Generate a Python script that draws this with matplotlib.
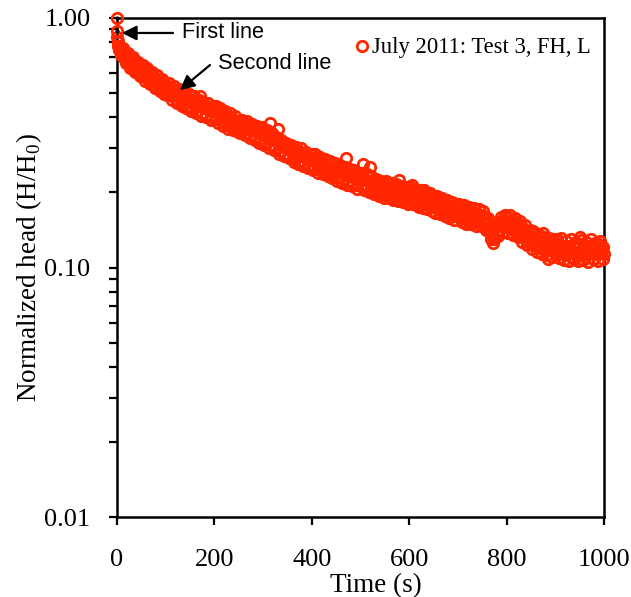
import matplotlib

matplotlib.use("Agg")
import matplotlib.pyplot as plt
import numpy as np
from matplotlib.ticker import FixedLocator, LogLocator, NullFormatter

# first seconds of the test (two readings at t = 0)
time_early = [0, 0, 1, 2, 3, 4]
head_early = [1.00, 0.89, 0.84, 0.80, 0.77, 0.75]

# readings every 5 s, t = 5 ... 1000
time_main = np.arange(5, 1001, 5)
head_main = [
    0.745, 0.73, 0.69, 0.70, 0.665, 0.67, 0.635, 0.645, 0.61, 0.62,
    0.59, 0.605, 0.57, 0.59, 0.555, 0.575, 0.54, 0.56, 0.53, 0.535,
    0.525, 0.51, 0.51, 0.495, 0.495, 0.485, 0.48, 0.47, 0.475, 0.46,
    0.465, 0.45, 0.455, 0.485, 0.44, 0.445, 0.43, 0.435, 0.425, 0.43,
    0.42, 0.405, 0.41, 0.395, 0.40, 0.385, 0.395, 0.38, 0.385, 0.375,
    0.38, 0.365, 0.375, 0.36, 0.365, 0.355, 0.36, 0.35, 0.355, 0.345,
    0.345, 0.335, 0.38, 0.33, 0.325, 0.36, 0.31, 0.315, 0.30, 0.305,
    0.30, 0.29, 0.295, 0.28, 0.29, 0.28, 0.285, 0.275, 0.27, 0.275,
    0.275, 0.26, 0.265, 0.255, 0.26, 0.25, 0.255, 0.245, 0.25, 0.24,
    0.25, 0.24, 0.245, 0.275, 0.222, 0.24, 0.232, 0.238, 0.228, 0.235,
    0.26, 0.225, 0.23, 0.252, 0.222, 0.218, 0.225, 0.212, 0.20, 0.215,
    0.21, 0.218, 0.19, 0.205, 0.215, 0.225, 0.21, 0.20, 0.205, 0.198,
    0.215, 0.198, 0.205, 0.175, 0.195, 0.205, 0.19, 0.195, 0.185, 0.19,
    0.19, 0.18, 0.185, 0.175, 0.18, 0.17, 0.175, 0.168, 0.172, 0.165,
    0.17, 0.165, 0.172, 0.16, 0.168, 0.155, 0.165, 0.16, 0.158, 0.162,
    0.155, 0.15, 0.145, 0.135, 0.13, 0.138, 0.142, 0.148, 0.155, 0.145,
    0.158, 0.15, 0.145, 0.152, 0.14, 0.148, 0.135, 0.14, 0.135, 0.13,
    0.14, 0.125, 0.13, 0.12, 0.138, 0.125, 0.108, 0.122, 0.13, 0.118,
    0.125, 0.115, 0.12, 0.112, 0.122, 0.118, 0.11, 0.125, 0.115, 0.132,
    0.118, 0.11, 0.122, 0.115, 0.12, 0.108, 0.125, 0.115, 0.12, 0.113,
]

# readings at t = 2.5 ... 997.5 (upper / lower edge of the band)
time_mid = np.arange(2.5, 1000, 5)
head_mid = [
    0.81, 0.71, 0.76, 0.66, 0.725, 0.63, 0.695, 0.605, 0.665, 0.585,
    0.65, 0.56, 0.63, 0.545, 0.61, 0.525, 0.59, 0.51, 0.57, 0.495,
    0.49, 0.55, 0.47, 0.535, 0.455, 0.52, 0.445, 0.505, 0.435, 0.495,
    0.425, 0.485, 0.415, 0.47, 0.405, 0.46, 0.40, 0.455, 0.39, 0.445,
    0.445, 0.38, 0.435, 0.37, 0.425, 0.36, 0.415, 0.355, 0.405, 0.35,
    0.345, 0.39, 0.34, 0.385, 0.33, 0.375, 0.325, 0.37, 0.315, 0.365,
    0.31, 0.355, 0.30, 0.345, 0.295, 0.335, 0.285, 0.325, 0.28, 0.315,
    0.275, 0.31, 0.265, 0.305, 0.26, 0.30, 0.255, 0.29, 0.25, 0.285,
    0.245, 0.285, 0.24, 0.277, 0.236, 0.272, 0.232, 0.267, 0.228, 0.262,
    0.222, 0.258, 0.219, 0.253, 0.215, 0.249, 0.212, 0.245, 0.207, 0.24,
    0.24, 0.205, 0.236, 0.20, 0.232, 0.197, 0.227, 0.193, 0.223, 0.19,
    0.222, 0.19, 0.219, 0.187, 0.216, 0.185, 0.213, 0.183, 0.211, 0.18,
    0.211, 0.179, 0.207, 0.176, 0.204, 0.173, 0.201, 0.171, 0.198, 0.168,
    0.166, 0.194, 0.164, 0.19, 0.161, 0.187, 0.158, 0.183, 0.155, 0.18,
    0.18, 0.152, 0.178, 0.15, 0.175, 0.149, 0.173, 0.147, 0.171, 0.146,
    0.168, 0.141, 0.158, 0.13, 0.125, 0.151, 0.134, 0.16, 0.139, 0.162,
    0.138, 0.163, 0.135, 0.158, 0.132, 0.154, 0.127, 0.148, 0.123, 0.142,
    0.119, 0.138, 0.115, 0.135, 0.113, 0.133, 0.112, 0.131, 0.11, 0.129,
    0.13, 0.109, 0.131, 0.107, 0.128, 0.106, 0.13, 0.108, 0.127, 0.106,
    0.129, 0.107, 0.126, 0.105, 0.13, 0.108, 0.125, 0.106, 0.128, 0.108,
]

# readings at t = 3.75 ... 998.75 (inside the band)
time_fill = np.arange(3.75, 1000, 5)
head_fill = [
    0.755, 0.76, 0.69, 0.725, 0.655, 0.69, 0.63, 0.66, 0.605, 0.635,
    0.585, 0.615, 0.565, 0.595, 0.545, 0.575, 0.53, 0.56, 0.515, 0.545,
    0.50, 0.53, 0.485, 0.515, 0.47, 0.50, 0.458, 0.485, 0.445, 0.473,
    0.435, 0.463, 0.425, 0.453, 0.416, 0.443, 0.41, 0.435, 0.402, 0.428,
    0.395, 0.42, 0.385, 0.41, 0.376, 0.40, 0.368, 0.392, 0.362, 0.385,
    0.355, 0.377, 0.347, 0.37, 0.34, 0.362, 0.333, 0.355, 0.326, 0.347,
    0.318, 0.338, 0.31, 0.328, 0.30, 0.32, 0.292, 0.31, 0.285, 0.304,
    0.28, 0.297, 0.274, 0.291, 0.268, 0.286, 0.263, 0.279, 0.257, 0.274,
    0.253, 0.269, 0.248, 0.264, 0.244, 0.259, 0.239, 0.255, 0.235, 0.25,
    0.231, 0.245, 0.227, 0.241, 0.223, 0.237, 0.219, 0.233, 0.215, 0.229,
    0.212, 0.226, 0.208, 0.222, 0.205, 0.218, 0.202, 0.214, 0.199, 0.212,
    0.197, 0.21, 0.195, 0.207, 0.192, 0.205, 0.19, 0.203, 0.188, 0.201,
    0.186, 0.199, 0.183, 0.196, 0.181, 0.193, 0.179, 0.19, 0.176, 0.187,
    0.173, 0.183, 0.17, 0.18, 0.167, 0.177, 0.164, 0.174, 0.161, 0.172,
    0.159, 0.17, 0.157, 0.168, 0.155, 0.166, 0.154, 0.165, 0.152, 0.163,
    0.15, 0.156, 0.141, 0.144, 0.131, 0.146, 0.141, 0.154, 0.145, 0.154,
    0.144, 0.152, 0.141, 0.149, 0.137, 0.144, 0.132, 0.14, 0.128, 0.134,
    0.123, 0.131, 0.121, 0.128, 0.119, 0.126, 0.117, 0.124, 0.116, 0.124,
    0.115, 0.123, 0.114, 0.122, 0.114, 0.122, 0.114, 0.122, 0.114, 0.121,
    0.114, 0.121, 0.113, 0.121, 0.114, 0.122, 0.113, 0.12, 0.114, 0.121,
]

series_label = "July 2011: Test 3, FH, L"
x_ticks = [0, 200, 400, 600, 800, 1000]
y_ticks = [0.01, 0.10, 1.00]
y_tick_labels = ["0.01", "0.10", "1.00"]

RED = "#FF2600"
SERIF = "Liberation Serif"
SANS = "Liberation Sans"

plt.rcParams["font.family"] = SERIF
plt.rcParams["mathtext.fontset"] = "custom"
plt.rcParams["mathtext.rm"] = SERIF

time = np.concatenate([time_early, time_mid, time_fill, time_main])
head = np.concatenate([head_early, head_mid, head_fill, head_main])

fig = plt.figure(figsize=(6.31, 5.97), dpi=100)
ax = fig.add_axes([117 / 631, 80 / 597, 487 / 631, 499 / 597])

ax.plot(time, head, linestyle="none", marker="o", markersize=7.5, markeredgewidth=2.0,
        markerfacecolor="none", markeredgecolor=RED, label=series_label,
        clip_on=False, zorder=3)
# the two starting readings carry a small dark centre
ax.plot(time_early[:2], head_early[:2], linestyle="none", marker="o", markersize=2,
        color="black", clip_on=False, zorder=4)

ax.set_yscale("log")
ax.set_xlim(0, 1000)
ax.set_ylim(0.01, 1.0)
ax.xaxis.set_major_locator(FixedLocator(x_ticks))
ax.yaxis.set_major_locator(FixedLocator(y_ticks))
ax.set_yticklabels(y_tick_labels)
ax.yaxis.set_minor_locator(LogLocator(base=10, subs=np.arange(2, 10)))
ax.yaxis.set_minor_formatter(NullFormatter())

for side in ["left", "right", "top", "bottom"]:
    ax.spines[side].set_linewidth(1.8)
ax.tick_params(axis="both", which="both", direction="out", width=1.6,
               top=False, right=False, labelsize=19)
ax.tick_params(axis="x", which="major", length=6, pad=17)
ax.tick_params(axis="y", which="major", length=6, pad=13)
ax.tick_params(axis="y", which="minor", length=6)

ax.set_xlabel("Time (s)", fontsize=19.5)
ax.xaxis.set_label_coords(0.532, -0.112)
ax.set_ylabel("Normalized head (H/H$_\\mathregular{0}$)", fontsize=19.5, labelpad=0)

arrow = dict(arrowstyle="-|>", color="black", lw=1.6, mutation_scale=22,
             shrinkA=0, shrinkB=0)
ax.annotate("", xy=(10, 0.871), xytext=(115, 0.871), arrowprops=arrow)
ax.text(133, 0.871, "First line", family=SANS, fontsize=15.7, va="center", ha="left")
ax.annotate("", xy=(129, 0.514), xytext=(191, 0.648), arrowprops=arrow)
ax.text(207, 0.66, "Second line", family=SANS, fontsize=15.7, va="center", ha="left")

ax.legend(loc="center left", bbox_to_anchor=(0.492, 0.94), frameon=False,
          fontsize=16.3, handlelength=0.5, handletextpad=0.2, borderpad=0,
          borderaxespad=0)

fig.savefig("out.png", dpi=100)
